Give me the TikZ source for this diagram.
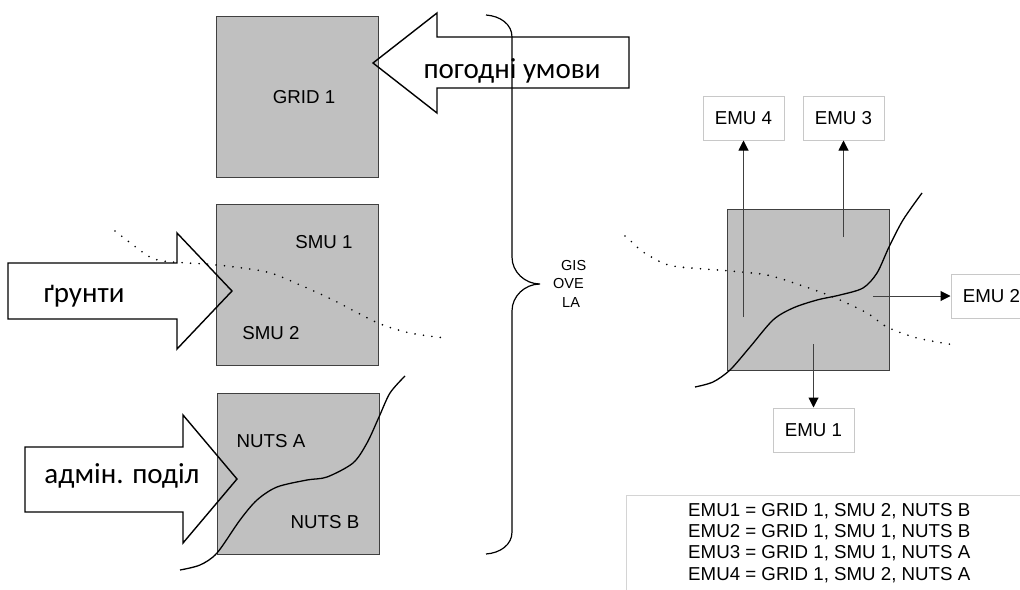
\documentclass[tikz,border=0pt]{standalone}
\usepackage{fontspec}
\setmainfont{Liberation Sans}
\newfontfamily\calib{Carlito}
\usetikzlibrary{arrows.meta}
\definecolor{boxgray}{HTML}{C0C0C0}
\definecolor{boxline}{HTML}{404040}
\definecolor{emuline}{HTML}{C8C8C8}
\definecolor{arrline}{HTML}{404040}
\definecolor{legline}{HTML}{D4D4D4}
\tikzset{
  mapbox/.style={draw=boxline, fill=boxgray, line width=0.8pt, inner sep=0pt,
    minimum width=162pt, minimum height=161pt},
  boxlabel/.style={font=\fontsize{18.7}{20}\selectfont, inner sep=0pt, anchor=base},
  bigarrow/.style={draw=black, line width=1.4pt, line join=miter},
  arrowtext/.style={font=\calib\fontsize{29}{32}\selectfont, inner sep=0pt, anchor=base},
  emubox/.style={draw=emuline, line width=1pt, fill=white, minimum width=81pt,
    minimum height=44pt, inner sep=0pt, font=\fontsize{18.7}{20}\selectfont},
  emuarrow/.style={draw=arrline, line width=1pt, -{Triangle[length=10pt,width=10pt,color=black]}},
  boundary/.style={draw=black, line width=1.3pt},
  dotline/.style={draw=black, line width=1.8pt, dash pattern=on 0pt off 8.5pt, line cap=round},
  legtext/.style={font=\fontsize{18.7}{20}\selectfont, inner sep=0pt, anchor=base west},
  gistext/.style={font=\fontsize{14.5}{16}\selectfont, inner sep=0pt, anchor=base west},
}
\begin{document}
\begin{tikzpicture}[x=1pt,y=-1pt]
\useasboundingbox (0,0) rectangle (1020,589);

% layer boxes
\node[mapbox] (grid) at (297,96.5) {};
\node[mapbox] (smu) at (297.5,284.5) {};
\node[mapbox] (nuts) at (298,473.5) {};
\node[boxlabel] (gridl) at (304,103) {GRID 1};
\node[boxlabel] (smu1) at (324,248) {SMU 1};
\node[boxlabel] (smu2) at (271,339) {SMU 2};
\node[boxlabel] (nutsa) at (271,447) {NUTS A};
\node[boxlabel] (nutsb) at (325,528) {NUTS B};

% dotted soil boundary (left)
\draw[dotline] plot[smooth, tension=0.5] coordinates {(115,231) (133,245) (150,257) (163,261) (187,263) (217,265) (267,272) (300,285) (333,300) (378,323) (410,333) (445,338)};
% admin boundary (left)
\draw[boundary] plot[smooth, tension=0.5] coordinates {(180,570) (200,565) (217,553) (240,520) (257,500) (277,487) (307,480) (327,477) (353,463) (367,443) (379,417) (390,393) (405,376)};

% big input arrows
\draw[bigarrow] (373,63) -- (437,13) -- (437,37) -- (629,37) -- (629,88) -- (437,88) -- (437,113) -- cycle;
\draw[bigarrow] (8,263) -- (177,263) -- (177,233) -- (232,291) -- (177,349) -- (177,319) -- (8,319) -- cycle;
\draw[bigarrow] (25,447) -- (183,447) -- (183,415) -- (237,479) -- (183,543) -- (183,512) -- (25,512) -- cycle;
\node[arrowtext] (tw) at (512,78) {погодні умови};
\node[arrowtext] (ts) at (84,302) {ґрунти};
\node[arrowtext] (ta) at (122,483) {адмін. поділ};

% brace
\draw[black, line width=1.2pt] (486,15) .. controls (500,16) and (512,24) .. (512,37) -- (512,257)
  .. controls (512,272) and (525,284) .. (540,284) .. controls (525,284) and (512,296) .. (512,311)
  -- (512,532) .. controls (512,545) and (500,553) .. (486,554);
\begin{scope}
\clip (545,250) rectangle (585,315);
\node[gistext] (gis1) at (561,270) {GIS};
\node[gistext] (gis2) at (553,288) {OVE};
\node[gistext] (gis3) at (562,307) {LA};
\end{scope}

% overlay result
\node[mapbox] (emu) at (808.5,290) {};
\draw[dotline] plot[smooth, tension=0.5] coordinates {(625,236) (633,243) (643,252) (663,263) (680,267) (730,271) (767,275) (800,285) (833,297) (867,313) (887,327) (917,338) (955,345)};
\draw[boundary] plot[smooth, tension=0.5] coordinates {(695,387) (713,382) (730,370) (750,347) (773,320) (793,308) (817,300) (840,295) (863,288) (877,273) (889,247) (903,220) (922,193)};

\node[emubox] (emu4) at (743.5,118) {EMU 4};
\node[emubox] (emu3) at (843.5,118) {EMU 3};
\node[emubox] (emu2) at (991.5,296) {EMU 2};
\node[emubox] (emu1) at (813.5,430) {EMU 1};
\coordinate (s4) at (743.5,317);
\coordinate (s3) at (843.5,237);
\coordinate (s2) at (873,296);
\coordinate (s1) at (813.5,344);
\draw[emuarrow] (s4) -- (emu4.south);
\draw[emuarrow] (s3) -- (emu3.south);
\draw[emuarrow] (s2) -- (emu2.west);
\draw[emuarrow] (s1) -- (emu1.north);

% legend
\coordinate (lgA) at (626,600);
\coordinate (lgB) at (626,495);
\coordinate (lgC) at (1030,495);
\draw[legline, line width=1pt] (lgA) -- (lgB) -- (lgC);
\node[legtext] (l1) at (688,516) {EMU1 = GRID 1, SMU 2, NUTS B};
\node[legtext] (l2) at (688,537.3) {EMU2 = GRID 1, SMU 1, NUTS B};
\node[legtext] (l3) at (688,558.6) {EMU3 = GRID 1, SMU 1, NUTS A};
\node[legtext] (l4) at (688,580) {EMU4 = GRID 1, SMU 2, NUTS A};
\end{tikzpicture}
\end{document}
